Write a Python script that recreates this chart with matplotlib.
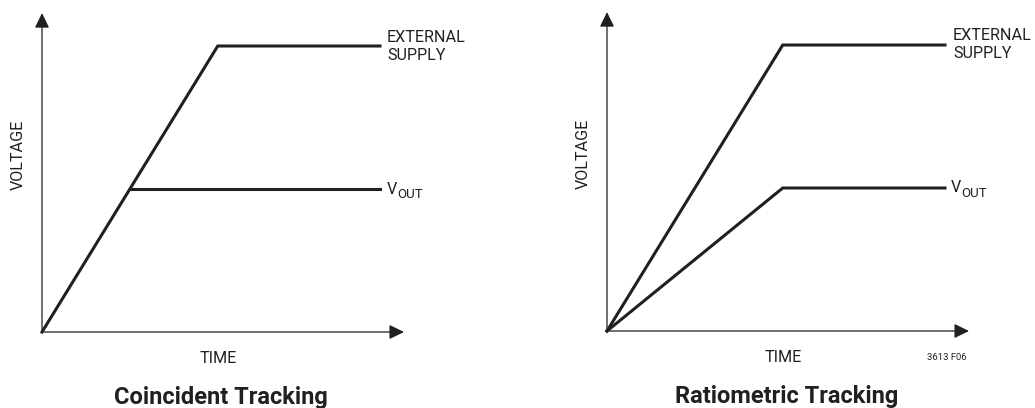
import matplotlib
matplotlib.use("Agg")
import matplotlib.pyplot as plt

# ---- data (normalised time / voltage units) ----
ext_time = [0.0, 0.52, 1.0]
ext_volt = [0.0, 1.0, 1.0]
coincident_vout_time = [0.26, 1.0]
coincident_vout_volt = [0.5, 0.5]
ratiometric_vout_time = [0.0, 0.52, 1.0]
ratiometric_vout_volt = [0.0, 0.5, 0.5]

titles = ["Coincident Tracking", "Ratiometric Tracking"]
xlabel = "TIME"
ylabel = "VOLTAGE"
ext_label = "EXTERNAL\nSUPPLY"
fig_code = "3613 F06"

FONT = ["Roboto", "DejaVu Sans"]
INK = "#231f20"
FS = 11.6

W, H = 1035, 408
fig = plt.figure(figsize=(W / 100, H / 100), dpi=100)
fig.patch.set_facecolor("white")

PX_X, PX_Y = 338.0, 286.0
XL, YL = 1.1, 1.15

def make_ax(ox, oy):
    ax = fig.add_axes([ox / W, (H - oy) / H, XL * PX_X / W, YL * PX_Y / H])
    ax.set_xlim(0, XL)
    ax.set_ylim(0, YL)
    ax.axis("off")
    return ax

def draw_axes_arrows(ax):
    ap = dict(arrowstyle="-|>,head_length=0.45,head_width=0.22", mutation_scale=20,
              lw=0.9, color=INK, shrinkA=0, shrinkB=0)
    ax.annotate("", xy=(1.071, 0), xytext=(0, 0), arrowprops=ap, annotation_clip=False)
    ax.annotate("", xy=(0, 1.115), xytext=(0, 0), arrowprops=ap, annotation_clip=False)

def vout_label(ax, x, y):
    t = ax.text(x, y, "V", family=FONT, fontsize=FS, ha="left", va="center", color=INK)
    ax.annotate("OUT", xy=(1, 0), xycoords=t, xytext=(0.2, -3.0), textcoords="offset points",
                family=FONT, fontsize=FS * 0.82, ha="left", va="bottom", color=INK)

def common(ax, title, lab_dx):
    draw_axes_arrows(ax)
    ax.plot(ext_time, ext_volt, color=INK, lw=2.2, solid_joinstyle="miter", clip_on=False)
    ax.text(1.0 + lab_dx, 1.0, ext_label, family=FONT, fontsize=FS, ha="left", va="center",
            linespacing=1.25, color=INK)
    ax.text(0.52, -0.094, xlabel, family=FONT, fontsize=FS, ha="center", va="center", color=INK)
    ax.text(-0.071, 0.62, ylabel, family=FONT, fontsize=FS, ha="center", va="center",
            rotation=90, color=INK)
    ax.text(0.53, -0.228, title, family=FONT, fontsize=17, fontweight="bold",
            ha="center", va="center", color=INK)

# Left panel
axL = make_ax(42, 332)
common(axL, titles[0], 0.021)
axL.plot(coincident_vout_time, coincident_vout_volt, color=INK, lw=2.2, clip_on=False)
vout_label(axL, 1.021, 0.5)

# Right panel
axR = make_ax(607, 331)
common(axR, titles[1], 0.024)
axR.plot(ratiometric_vout_time, ratiometric_vout_volt, color=INK, lw=2.2,
         solid_joinstyle="miter", clip_on=False)
vout_label(axR, 1.018, 0.5)
axR.text(1.006, -0.094, fig_code, family=FONT, fontsize=6.8, ha="center", va="center", color=INK)

fig.savefig("out.png", dpi=100, facecolor="white")
